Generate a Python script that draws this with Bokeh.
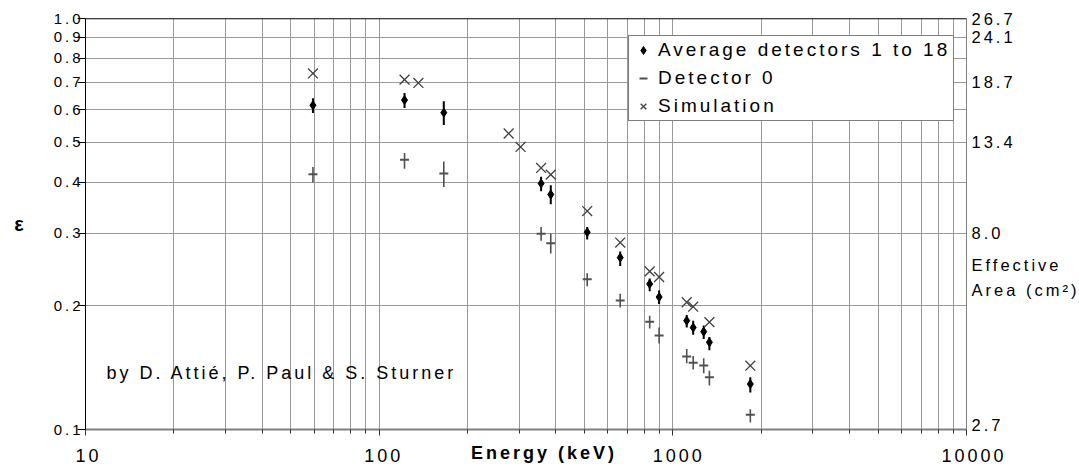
import math
from bokeh.plotting import figure
from bokeh.models import (Range1d, FixedTicker, NumeralTickFormatter, Label,
                          Legend, LegendItem, Span, LogAxis)
from bokeh.embed import file_html
from bokeh.resources import INLINE

# ---------------- data ----------------
energy_avg = [59.5, 122, 166, 356, 384, 511, 662, 834, 898, 1115, 1173, 1274, 1332, 1836]
eff_avg = [0.615, 0.633, 0.590, 0.397, 0.373, 0.302, 0.262, 0.226, 0.210, 0.184, 0.177, 0.173, 0.163, 0.129]
avg_lo = [0.589, 0.606, 0.551, 0.380, 0.353, 0.290, 0.250, 0.217, 0.202, 0.177, 0.170, 0.166, 0.156, 0.123]
avg_hi = [0.640, 0.659, 0.629, 0.412, 0.393, 0.311, 0.271, 0.233, 0.218, 0.190, 0.184, 0.179, 0.168, 0.134]

energy_det0 = [59.5, 122, 166, 356, 384, 511, 662, 834, 898, 1115, 1173, 1274, 1332, 1836]
eff_det0 = [0.418, 0.4535, 0.4195, 0.2996, 0.284, 0.232, 0.206, 0.183, 0.1694, 0.1506, 0.1454, 0.1432, 0.134, 0.1086]
det0_lo = [0.399, 0.431, 0.389, 0.288, 0.268, 0.223, 0.198, 0.176, 0.162, 0.145, 0.140, 0.137, 0.128, 0.104]
det0_hi = [0.435, 0.471, 0.449, 0.311, 0.300, 0.240, 0.214, 0.189, 0.177, 0.157, 0.151, 0.149, 0.139, 0.112]

energy_sim = [59.5, 122, 136, 276, 303, 356, 384, 511, 662, 834, 898, 1115, 1173, 1332, 1836]
eff_sim = [0.735, 0.710, 0.697, 0.525, 0.487, 0.433, 0.417, 0.340, 0.285, 0.2425, 0.235, 0.204, 0.199, 0.1825, 0.143]

x_major = [10, 100, 1000, 10000]
y_ticks = [0.1, 0.2, 0.3, 0.4, 0.5, 0.6, 0.7, 0.8, 0.9, 1.0]
right_ticks = [1.0, 0.9, 0.7, 0.5, 0.3, 0.1]
right_labels = ["26.7", "24.1", "18.7", "13.4", "8.0", "2.7"]
area_title = ["Effective", "Area (cm²)"]

legend_labels = ["Average detectors 1 to 18", "Detector 0", "Simulation"]
credit = "by D. Attié, P. Paul & S. Sturner"
x_title = "Energy (keV)"
y_title = "ε"

# ---------------- layout ----------------
W, H = 1079, 468
BL, BT = 85, 18
FW, FH = 881, 411
BR = W - BL - FW
BB = H - BT - FH
X0, X1 = 10, 10000
Y0, Y1 = 0.1, 1.0
FONT = "Liberation Sans"


def x_at(px):
    """data x for a pixel offset from the frame's left edge"""
    return 10 ** (math.log10(X0) + (math.log10(X1) - math.log10(X0)) * px / FW)


def y_at(px):
    """data y for a pixel offset below the frame's top edge"""
    return 10 ** (math.log10(Y1) - (math.log10(Y1) - math.log10(Y0)) * px / FH)


p = figure(width=W, height=H, x_axis_type="log", y_axis_type="log",
           x_range=Range1d(X0, X1), y_range=Range1d(Y0, Y1),
           output_backend="svg", toolbar_location=None,
           min_border_left=BL, min_border_right=BR,
           min_border_top=BT, min_border_bottom=BB)
p.styles = {"letter-spacing": "3px"}
p.background_fill_color = "white"
p.border_fill_color = "white"
p.outline_line_color = "#808080"
p.outline_line_width = 1

# bottom axis
x_minor = [m * d for d in x_major[:-1] for m in range(2, 10)]
xa = p.xaxis[0]
xa.ticker = FixedTicker(ticks=x_major, minor_ticks=x_minor)
xa.formatter = NumeralTickFormatter(format="0")
xa.axis_line_color = "#808080"
xa.axis_line_width = 2
xa.major_tick_line_color = "#303030"
xa.minor_tick_line_color = "#303030"
xa.major_tick_out = 6
xa.major_tick_in = 0
xa.minor_tick_out = 4
xa.minor_tick_in = 0
xa.major_label_text_font = FONT
xa.major_label_text_font_size = "18px"
xa.major_label_text_color = "black"
xa.major_label_standoff = 13
xa.axis_label = x_title
xa.axis_label_text_font = FONT
xa.axis_label_text_font_size = "18px"
xa.axis_label_text_font_style = "bold"
xa.axis_label_text_color = "black"
xa.axis_label_standoff = -22

# left axis
ya = p.yaxis[0]
ya.ticker = FixedTicker(ticks=y_ticks)
ya.formatter = NumeralTickFormatter(format="0.0")
ya.axis_line_color = "black"
ya.axis_line_width = 1
ya.major_tick_line_color = "black"
ya.major_tick_out = 8
ya.major_tick_in = 0
ya.minor_tick_line_color = None
ya.major_label_text_font = FONT
ya.major_label_text_font_size = "15px"
ya.major_label_text_color = "black"
ya.major_label_standoff = 3
ya.axis_label = y_title
ya.axis_label_orientation = "horizontal"
ya.axis_label_text_font = FONT
ya.axis_label_text_font_size = "20px"
ya.axis_label_text_font_style = "bold"
ya.axis_label_text_color = "black"
ya.axis_label_standoff = 27

# right axis: effective area scale (labels only)
r_pos = list(right_ticks[:-1]) + [y_at(246.5), y_at(271.5), y_at(FH - 5)]
r_txt = list(right_labels[:-1]) + area_title + [right_labels[-1]]
ra = LogAxis(ticker=FixedTicker(ticks=r_pos),
             major_label_overrides={v: t for v, t in zip(r_pos, r_txt)})
ra.axis_line_color = None
ra.major_tick_line_color = None
ra.minor_tick_line_color = None
ra.major_tick_out = 0
ra.major_tick_in = 0
ra.major_label_standoff = 5
ra.major_label_text_font = FONT
ra.major_label_text_font_size = "16.5px"
ra.major_label_text_color = "black"
p.add_layout(ra, "right")

p.xgrid.grid_line_color = "#999999"
p.xgrid.minor_grid_line_color = "#999999"
p.ygrid.grid_line_color = "#999999"

p.add_layout(Span(location=Y1, dimension="width", line_color="black", line_width=1.5))

# error bars
p.segment(x0=energy_det0, y0=det0_lo, x1=energy_det0, y1=det0_hi,
          line_color="#505050", line_width=1.6)
p.segment(x0=energy_avg, y0=avg_lo, x1=energy_avg, y1=avg_hi,
          line_color="black", line_width=2)

r_det = p.scatter(energy_det0, eff_det0, marker="dash", size=9,
                  line_color="#505050", line_width=2)
r_avg = p.scatter(energy_avg, eff_avg, marker="diamond", size=9,
                  fill_color="black", line_color="black")
r_sim = p.scatter(energy_sim, eff_sim, marker="x", size=14,
                  line_color="#404040", line_width=1.3)

legend = Legend(items=[LegendItem(label=legend_labels[0], renderers=[r_avg]),
                       LegendItem(label=legend_labels[1], renderers=[r_det]),
                       LegendItem(label=legend_labels[2], renderers=[r_sim])],
                location=(543, 308), orientation="vertical")
legend.border_line_color = "black"
legend.border_line_width = 1
legend.background_fill_color = "white"
legend.background_fill_alpha = 1
legend.padding = 3
legend.spacing = 6
legend.margin = 0
legend.glyph_width = 22
legend.glyph_height = 20
legend.label_height = 20
legend.label_standoff = 4
legend.label_width = 288
legend.label_text_font = FONT
legend.label_text_font_size = "19px"
legend.label_text_color = "black"
p.add_layout(legend)

p.add_layout(Label(x=x_at(21), y=y_at(354), text=credit, text_font=FONT,
                   text_font_size="18px", text_color="black",
                   text_align="left", text_baseline="middle"))

open("out.html", "w").write(file_html(p, INLINE))
